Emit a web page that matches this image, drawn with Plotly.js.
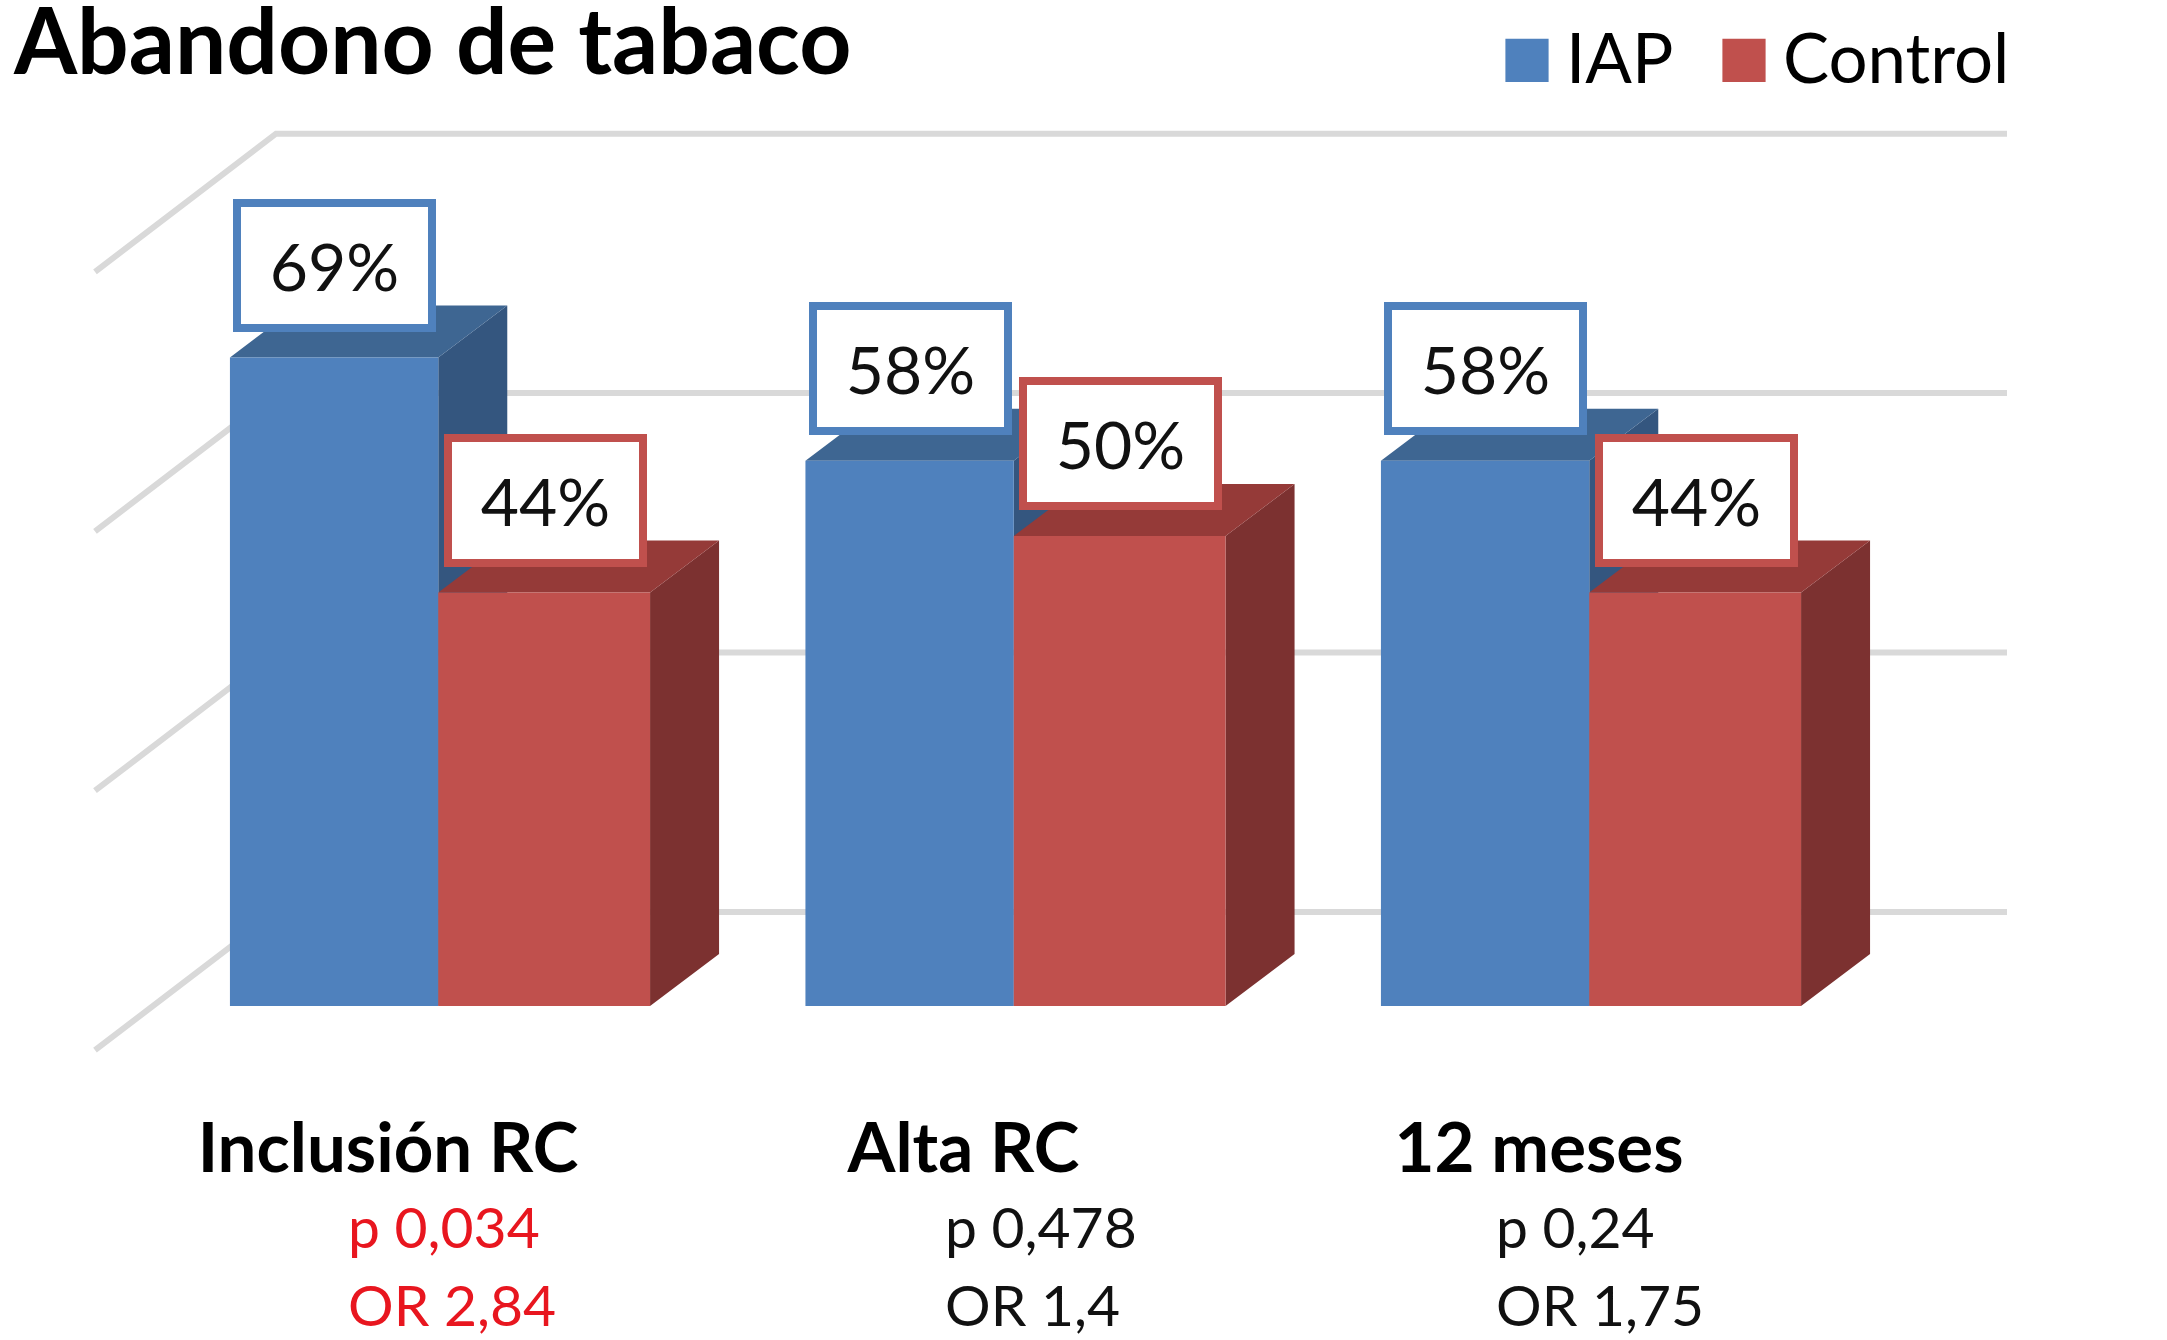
<!DOCTYPE html>
<html><head><meta charset="utf-8">
<script src="https://cdn.plot.ly/plotly-3.0.1.min.js"></script>
<style>html,body{margin:0;padding:0;background:#fff}</style></head>
<body><div id="chart" style="width:2167px;height:1340px"></div>
<script>
const categories = ["Inclusión RC", "Alta RC", "12 meses"];
const iapValues = [69, 58, 58];
const controlValues = [44, 50, 44];
const wallGridValues = [0, 27.6, 55.2, 82.8];
const pLabels = ["p 0,034", "p 0,478", "p 0,24"];
const orLabels = ["OR 2,84", "OR 1,4", "OR 1,75"];
const noteColors = ["#E8161F", "#111111", "#111111"];

const W = 2167, H = 1340, pxX = 575.5, pxY = 9.4;
const xRange = [-440 / pxX, (W - 440) / pxX];
const yRange = [(1006 - H) / pxY, 1006 / pxY];
const xs = categories.map((_, i) => i);
const barW = 0.365, split = -0.003, dx = 69 / pxX, dy = 52 / pxY;
const FONT = "Lato, 'Open Sans', sans-serif";

function faces(values, xL, xR) {
  const top = {x: [], y: []}, side = {x: [], y: []};
  values.forEach((v, i) => {
    const a = i + xL, b = i + xR;
    top.x.push(a, a + dx, b + dx, b, a, null);
    top.y.push(v, v + dy, v + dy, v, v, null);
    side.x.push(b, b + dx, b + dx, b, b, null);
    side.y.push(v, v + dy, dy, 0, v, null);
  });
  return {top, side};
}
function poly(p, color) {
  return {type: "scatter", x: p.x, y: p.y, mode: "lines", fill: "toself", fillcolor: color,
    line: {width: 0, color: color}, hoverinfo: "skip", showlegend: false, xaxis: "x", yaxis: "y"};
}
const wx0 = (95 - 440) / pxX, wx1 = (276 - 440) / pxX, wx2 = (2007 - 440) / pxX;
const wallX = [], wallY = [];
wallGridValues.forEach(v => {
  wallX.push(wx0, wx1, wx2, null);
  wallY.push(v - 4.7, v + 10, v + 10, null);
});
const iapF = faces(iapValues, -barW, split), ctlF = faces(controlValues, split, barW);

const data = [
  {type: "scatter", x: wallX, y: wallY, mode: "lines", line: {color: "#D9D9D9", width: 6},
   hoverinfo: "skip", showlegend: false, xaxis: "x", yaxis: "y"},
  poly(iapF.side, "#34567F"), poly(iapF.top, "#3E6692"),
  poly(ctlF.side, "#7C3130"), poly(ctlF.top, "#953A38"),
  {type: "bar", name: "IAP", x: xs, y: iapValues, offset: -barW, width: barW + split,
   marker: {color: "#4F81BD"}, xaxis: "x2", yaxis: "y2"},
  {type: "bar", name: "Control", x: xs, y: controlValues, offset: split, width: barW - split,
   marker: {color: "#C0504D"}, xaxis: "x2", yaxis: "y2"}
];

const annotations = [];
function box(v, x, color) {
  annotations.push({xref: "x", yref: "y", x: x, y: v + 9.8, text: v + "%", showarrow: false,
    font: {family: FONT, size: 66, color: "#111"}, bgcolor: "#fff", bordercolor: color, borderwidth: 8,
    borderpad: 0, width: 187, height: 117, align: "center", valign: "middle"});
}
iapValues.forEach((v, i) => box(v, i - barW / 2, "#4F81BD"));
controlValues.forEach((v, i) => box(v, i + barW / 2, "#C0504D"));
const noteX = [346, 943, 1494];
categories.forEach((_, i) => {
  [[pLabels[i], 1226], [orLabels[i], 1304]].forEach(([t, py]) => {
    annotations.push({xref: "paper", yref: "paper", x: noteX[i] / W, y: 1 - py / H, xanchor: "left", yanchor: "middle",
      text: t, showarrow: false, font: {family: FONT, size: 57, color: noteColors[i]}});
  });
});

const hidden = {showgrid: false, zeroline: false, showline: false, ticks: "", showticklabels: false, fixedrange: true};
const layout = {
  width: W, height: H, autosize: false, margin: {l: 0, r: 0, t: 0, b: 0, pad: 0},
  paper_bgcolor: "#fff", plot_bgcolor: "rgba(0,0,0,0)",
  title: {text: "<b>Abandono de tabaco</b>", x: 14 / W, xref: "paper", xanchor: "left", y: 1 - 42 / H, yref: "paper", yanchor: "middle",
    font: {family: FONT, size: 91, color: "#000"}, pad: {t: 0, b: 0, l: 0, r: 0}},
  barmode: "overlay",
  xaxis: {range: xRange, showgrid: false, zeroline: false, showline: false, ticks: "", fixedrange: true,
    tickmode: "array", tickvals: xs, ticktext: categories.map(c => "<b>" + c + "</b>"),
    anchor: "free", position: 1 - 1102 / H, ticklabelshift: -52,
    tickfont: {family: FONT, size: 69, color: "#000"}},
  yaxis: Object.assign({range: yRange}, hidden),
  xaxis2: Object.assign({range: xRange, overlaying: "x", anchor: "y2"}, hidden),
  yaxis2: Object.assign({range: yRange, overlaying: "y", anchor: "x2"}, hidden),
  showlegend: true,
  legend: {orientation: "h", x: 1504 / W, xanchor: "left", y: 1 - 5 / H, yanchor: "top",
    traceorder: "normal", itemwidth: 52, entrywidth: 150, entrywidthmode: "pixels", bgcolor: "rgba(0,0,0,0)", borderwidth: 0,
    font: {family: FONT, size: 69, color: "#000"}, itemclick: false, itemdoubleclick: false},
  annotations: annotations
};
Plotly.newPlot("chart", data, layout, {displayModeBar: false, staticPlot: true}).then(() => {
  document.querySelectorAll(".legend .legendpoints path").forEach(p => {
    p.setAttribute("transform", "translate(23,4) scale(3.6)");
  });
  document.querySelectorAll(".legend .scrollbox, .legend").forEach(el => el.removeAttribute("clip-path"));
  document.querySelectorAll(".legend .scrollbox").forEach(el => { el.style.clipPath = "none"; });
});
</script></body></html>
